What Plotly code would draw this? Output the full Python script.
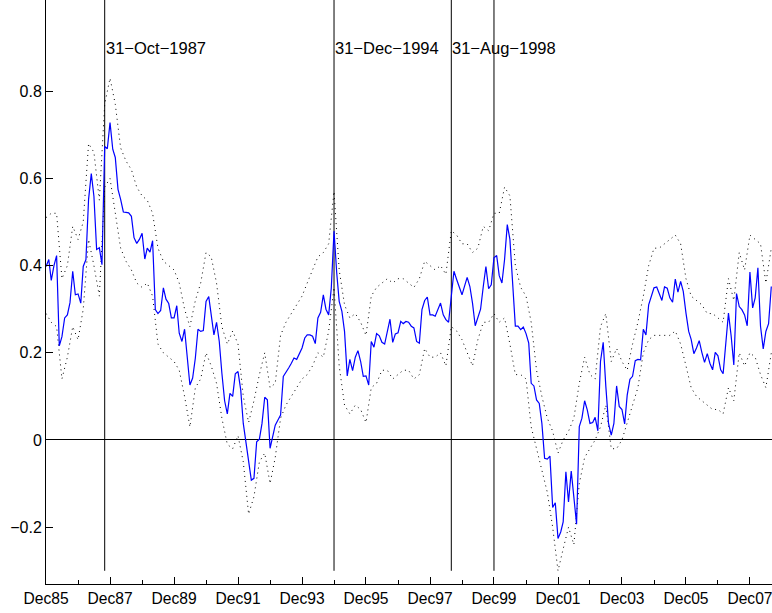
import pandas as pd
import plotly.graph_objects as go

# Monthly estimates, month-end dates from Dec 1985 to Aug 2008
start_month = "1986-01-01"
n_months = 273

estimate = [
    0.398,
    0.414, 0.366, 0.400, 0.423, 0.216, 0.237, 0.280, 0.287, 0.315, 0.387, 0.333, 0.335,
    0.314, 0.398, 0.414, 0.552, 0.611, 0.559, 0.437, 0.441, 0.402, 0.673, 0.668, 0.728,
    0.667, 0.648, 0.575, 0.552, 0.523, 0.522, 0.521, 0.513, 0.464, 0.451, 0.460, 0.474,
    0.415, 0.440, 0.431, 0.457, 0.299, 0.290, 0.297, 0.349, 0.323, 0.313, 0.280, 0.280,
    0.308, 0.245, 0.226, 0.254, 0.195, 0.126, 0.142, 0.188, 0.254, 0.249, 0.251, 0.318,
    0.329, 0.291, 0.241, 0.270, 0.226, 0.153, 0.090, 0.060, 0.107, 0.100, 0.152, 0.157,
    0.115, 0.038, -0.008, -0.054, -0.092, -0.088, -0.004, 0.002, 0.038, 0.098, 0.092, -0.019,
    0.008, 0.034, 0.046, 0.057, 0.146, 0.157, 0.165, 0.176, 0.188, 0.185, 0.198, 0.211,
    0.234, 0.241, 0.241, 0.238, 0.221, 0.280, 0.293, 0.333, 0.300, 0.287, 0.349, 0.479,
    0.383, 0.318, 0.295, 0.249, 0.147, 0.185, 0.159, 0.190, 0.205, 0.180, 0.146, 0.147,
    0.126, 0.226, 0.213, 0.244, 0.239, 0.224, 0.220, 0.249, 0.277, 0.224, 0.243, 0.246,
    0.272, 0.267, 0.272, 0.270, 0.261, 0.257, 0.226, 0.222, 0.299, 0.320, 0.328, 0.287,
    0.287, 0.284, 0.299, 0.314, 0.287, 0.276, 0.270, 0.329, 0.387, 0.368, 0.349, 0.333,
    0.354, 0.373, 0.352, 0.314, 0.262, 0.280, 0.300, 0.352, 0.398, 0.347, 0.356, 0.418,
    0.423, 0.377, 0.360, 0.414, 0.494, 0.460, 0.368, 0.261, 0.261, 0.253, 0.259, 0.244,
    0.222, 0.130, 0.124, 0.092, 0.084, 0.038, -0.042, -0.044, -0.037, -0.155, -0.144, -0.226,
    -0.211, -0.188, -0.073, -0.142, -0.071, -0.129, -0.193, 0.031, 0.050, 0.090, 0.069, 0.038,
    0.040, 0.052, 0.021, 0.180, 0.224, 0.123, 0.038, 0.011, 0.038, 0.124, 0.077, 0.070,
    0.037, 0.103, 0.139, 0.146, 0.182, 0.185, 0.184, 0.254, 0.241, 0.310, 0.329, 0.349,
    0.351, 0.337, 0.320, 0.351, 0.348, 0.326, 0.316, 0.369, 0.339, 0.364, 0.341, 0.291,
    0.249, 0.231, 0.198, 0.211, 0.228, 0.201, 0.178, 0.198, 0.176, 0.161, 0.201, 0.193,
    0.161, 0.152, 0.222, 0.291, 0.238, 0.172, 0.336, 0.306, 0.299, 0.287, 0.262, 0.385,
    0.303, 0.326, 0.395, 0.261, 0.209, 0.249, 0.267, 0.352,
]

# Confidence bands, every second month (Dec85, Feb86, Apr86, ...)
upper_band = [
    0.51,
    0.52, 0.52, 0.37, 0.40, 0.49, 0.46,
    0.50, 0.68, 0.66, 0.55, 0.77, 0.83,
    0.77, 0.67, 0.64, 0.62, 0.58, 0.56,
    0.55, 0.52, 0.44, 0.41, 0.40, 0.39,
    0.36, 0.30, 0.26, 0.32, 0.36, 0.43,
    0.42, 0.36, 0.26, 0.22, 0.25, 0.22,
    0.10, 0.04, 0.09, 0.15, 0.20, 0.12,
    0.13, 0.24, 0.27, 0.29, 0.31, 0.33,
    0.36, 0.39, 0.42, 0.43, 0.45, 0.57,
    0.39, 0.31, 0.28, 0.29, 0.27, 0.24,
    0.33, 0.35, 0.36, 0.37, 0.36, 0.37,
    0.37, 0.36, 0.35, 0.37, 0.41, 0.40,
    0.39, 0.40, 0.38, 0.48, 0.47, 0.45,
    0.45, 0.43, 0.44, 0.49, 0.48, 0.52,
    0.52, 0.58, 0.56, 0.40, 0.35, 0.33,
    0.27, 0.16, 0.10, 0.05, 0.02, -0.03,
    0.00, 0.02, 0.05, 0.13, 0.19, 0.15,
    0.14, 0.26, 0.29, 0.18, 0.21, 0.18,
    0.16, 0.22, 0.27, 0.33, 0.40, 0.44,
    0.44, 0.45, 0.46, 0.47, 0.45, 0.37,
    0.33, 0.32, 0.31, 0.29, 0.29, 0.28,
    0.27, 0.37, 0.32, 0.43, 0.39, 0.47,
    0.46, 0.45, 0.36, 0.44,
]

lower_band = [
    0.29,
    0.27, 0.26, 0.14, 0.19, 0.26, 0.23,
    0.30, 0.46, 0.40, 0.33, 0.58, 0.60,
    0.52, 0.44, 0.41, 0.39, 0.36, 0.35,
    0.36, 0.33, 0.22, 0.20, 0.19, 0.18,
    0.16, 0.10, 0.03, 0.12, 0.14, 0.20,
    0.17, 0.13, 0.05, -0.01, -0.02, 0.01,
    -0.05, -0.17, -0.13, -0.05, -0.03, -0.10,
    -0.04, 0.05, 0.08, 0.10, 0.12, 0.14,
    0.15, 0.17, 0.20, 0.19, 0.25, 0.35,
    0.17, 0.08, 0.06, 0.08, 0.07, 0.04,
    0.12, 0.13, 0.16, 0.16, 0.14, 0.15,
    0.16, 0.16, 0.14, 0.15, 0.21, 0.19,
    0.19, 0.20, 0.17, 0.26, 0.25, 0.23,
    0.20, 0.17, 0.23, 0.27, 0.27, 0.29,
    0.27, 0.28, 0.22, 0.15, 0.15, 0.14,
    0.03, -0.02, -0.07, -0.12, -0.20, -0.30,
    -0.25, -0.20, -0.24, -0.10, -0.04, -0.02,
    0.00, 0.03, 0.08, -0.02, -0.02, 0.00,
    0.04, 0.08, 0.12, 0.20, 0.23, 0.24,
    0.24, 0.24, 0.24, 0.25, 0.22, 0.17,
    0.12, 0.10, 0.09, 0.08, 0.07, 0.07,
    0.06, 0.12, 0.09, 0.20, 0.17, 0.20,
    0.19, 0.15, 0.12, 0.20,
]

# Event markers
event_dates = ["1987-10-31", "1994-12-31", "1998-08-31", "1999-12-31"]
event_labels = ["31\u2212Oct\u22121987", "31\u2212Dec\u22121994", "31\u2212Aug\u22121998", ""]
event_low, event_high = -0.3, 1.1
label_level = 0.9

tick_dates = ["1985-12-31", "1987-12-31", "1989-12-31", "1991-12-31", "1993-12-31",
              "1995-12-31", "1997-12-31", "1999-12-31", "2001-12-31", "2003-12-31",
              "2005-12-31", "2007-12-31"]
tick_labels = ["Dec85", "Dec87", "Dec89", "Dec91", "Dec93", "Dec95", "Dec97",
               "Dec99", "Dec01", "Dec03", "Dec05", "Dec07"]
minor_dates = ["1986-12-31", "1988-12-31", "1990-12-31", "1992-12-31", "1994-12-31",
               "1996-12-31", "1998-12-31", "2000-12-31", "2002-12-31", "2004-12-31",
               "2006-12-31"]
y_ticks = [-0.2, 0, 0.2, 0.4, 0.6, 0.8]
y_tick_labels = ["\u22120.2", "0", "0.2", "0.4", "0.6", "0.8"]

dates = pd.date_range(start=start_month, periods=n_months, freq="MS") - pd.Timedelta(days=1)
band_dates = dates[::2]

font_family = "Liberation Sans, Arial, Helvetica, sans-serif"

fig = go.Figure()

for band in (upper_band, lower_band):
    fig.add_trace(go.Scatter(
        x=band_dates, y=band, mode="lines",
        line=dict(color="black", width=1, dash="1px,4px"),
        hoverinfo="skip",
    ))

for d in event_dates:
    fig.add_trace(go.Scatter(
        x=[d, d], y=[event_low, event_high], mode="lines",
        line=dict(color="black", width=1), hoverinfo="skip",
    ))

fig.add_trace(go.Scatter(
    x=dates, y=estimate, mode="lines",
    line=dict(color="#0000ff", width=1.2),
))

for d, lab in zip(event_dates, event_labels):
    if lab:
        fig.add_annotation(
            x=d, y=label_level, text=lab, showarrow=False,
            xanchor="left", yanchor="middle", xshift=-1,
            font=dict(family=font_family, size=16.5, color="black"),
        )

fig.update_layout(
    width=772, height=613,
    margin=dict(l=46, r=0, t=0, b=29, pad=0, autoexpand=False),
    paper_bgcolor="white", plot_bgcolor="white",
    showlegend=False,
    font=dict(family=font_family, size=16, color="black"),
)

fig.update_xaxes(
    type="date",
    range=["1985-12-30", "2008-09-08"],
    automargin=False,
    tickmode="array", tickvals=tick_dates, ticktext=tick_labels,
    ticks="inside", ticklen=7, tickcolor="black", tickwidth=1,
    ticklabeloverflow="allow",
    minor=dict(tickmode="array", tickvals=minor_dates, ticks="inside",
               ticklen=4, tickcolor="black", tickwidth=1),
    showline=True, linecolor="black", linewidth=1,
    showgrid=False, zeroline=False,
    tickfont=dict(family=font_family, size=15.6, color="black"),
)

fig.update_yaxes(
    range=[-0.3303, 1.0092],
    automargin=False,
    tickmode="array", tickvals=y_ticks, ticktext=y_tick_labels,
    ticks="inside", ticklen=7, tickcolor="black", tickwidth=1,
    showline=True, linecolor="black", linewidth=1,
    showgrid=False,
    zeroline=True, zerolinecolor="black", zerolinewidth=1,
    tickfont=dict(family=font_family, size=16, color="black"),
)

fig.write_html("out.html")
